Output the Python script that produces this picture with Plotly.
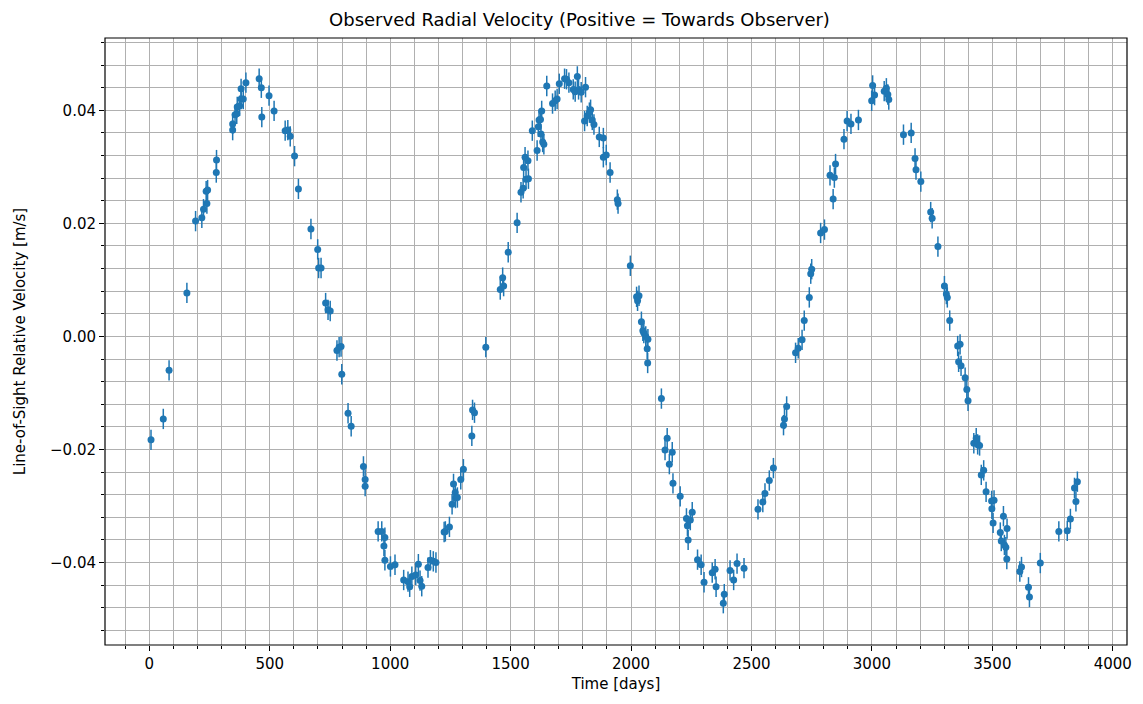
import plotly.graph_objects as go

days = [7, 58, 82, 156, 192, 218, 225, 239, 236, 242, 278, 279, 346, 346, 356, 363, 365, 375, 381, 381,
        390, 401, 456, 465, 467, 497, 518, 564, 575, 585, 603, 619, 671, 699, 703, 713, 732, 742, 751, 779,
        788, 796, 799, 825, 838, 889, 896, 896, 950, 965, 974, 978, 978, 1001, 1020, 1056, 1074, 1081, 1090, 1106,
        1117, 1124, 1131, 1157, 1167, 1179, 1190, 1224, 1229, 1246, 1257, 1263, 1270, 1271, 1279, 1293, 1304, 1339, 1342, 1350,
        1397, 1457, 1467, 1471, 1490, 1527, 1543, 1552, 1554, 1560, 1564, 1572, 1574, 1590, 1610, 1615, 1618, 1624, 1626, 1629,
        1633, 1638, 1650, 1674, 1685, 1693, 1702, 1724, 1732, 1742, 1760, 1768, 1777, 1782, 1793, 1807, 1811, 1818, 1827, 1832,
        1839, 1846, 1868, 1885, 1885, 1897, 1913, 1943, 1946,
        1997, 2023, 2027, 2033, 2043, 2049, 2053, 2061, 2070, 2067, 2069, 2126, 2141, 2150, 2159, 2171, 2174, 2204, 2230, 2234,
        2237, 2246, 2254, 2276, 2291, 2303, 2337, 2349, 2353, 2383, 2387, 2411, 2426, 2440, 2469, 2527, 2547, 2556, 2574, 2591,
        2633, 2637, 2646, 2683, 2694, 2710, 2719, 2740, 2746, 2750, 2787, 2803, 2826, 2839, 2844, 2849, 2884, 2897, 2913, 2944,
        2999, 3003, 3011, 3051, 3060, 3066, 3070, 3131, 3163, 3179, 3183, 3203, 3244, 3250, 3274, 3301, 3309, 3313, 3323, 3356,
        3366, 3360, 3370, 3387, 3394, 3399, 3423, 3433, 3439, 3447, 3454, 3464, 3474, 3497, 3507, 3498, 3503, 3533, 3537, 3546,
        3550, 3556, 3560, 3561, 3614, 3621, 3650, 3654, 3699, 3776, 3811, 3824, 3841, 3847, 3853]
velocity = [-0.0183, -0.0146, -0.0060, 0.0077, 0.0204, 0.0210, 0.0225, 0.0235, 0.0257, 0.0259, 0.0290, 0.0312, 0.0365, 0.0376, 0.0392, 0.0394, 0.0406, 0.0408, 0.0420, 0.0438,
            0.0420, 0.0449, 0.0456, 0.0440, 0.0388, 0.0426, 0.0399, 0.0364, 0.0365, 0.0354, 0.0319, 0.0261, 0.0190, 0.0154, 0.0121, 0.0121, 0.0059, 0.0047, 0.0045, -0.0025,
            -0.0019, -0.0018, -0.0067, -0.0136, -0.0159, -0.0230, -0.0253, -0.0265, -0.0345, -0.0345, -0.0371, -0.0356, -0.0396, -0.0407, -0.0404, -0.0431, -0.0434, -0.0443, -0.0425, -0.0422,
            -0.0403, -0.0432, -0.0442, -0.0409, -0.0396, -0.0398, -0.0400, -0.0346, -0.0345, -0.0337, -0.0297, -0.0261, -0.0276, -0.0286, -0.0285, -0.0253, -0.0235, -0.0176, -0.0130, -0.0135,
            -0.0019, 0.0083, 0.0104, 0.0089, 0.0149, 0.0201, 0.0255, 0.0262, 0.0299, 0.0317, 0.0278, 0.0311, 0.0279, 0.0364, 0.0329, 0.0371, 0.0383, 0.0384, 0.0358, 0.0399,
            0.0344, 0.0340, 0.0443, 0.0412, 0.0417, 0.0420, 0.0447, 0.0456, 0.0455, 0.0449, 0.0437, 0.0433, 0.0460, 0.0437, 0.0432, 0.0381, 0.0441, 0.0390, 0.0396, 0.0401,
            0.0383, 0.0375, 0.0353, 0.0351, 0.0317, 0.0321, 0.0290, 0.0242, 0.0235,
            0.0125, 0.0070, 0.0063, 0.0072, 0.0026, 0.0010, 0.0006, 0.0000, -0.0005, -0.0022, -0.0047, -0.0110, -0.0201, -0.0180, -0.0226, -0.0205, -0.0260, -0.0283, -0.0322, -0.0335,
            -0.0360, -0.0325, -0.0311, -0.0395, -0.0404, -0.0435, -0.0418, -0.0412, -0.0443, -0.0472, -0.0456, -0.0414, -0.0431, -0.0402, -0.0410, -0.0306, -0.0293, -0.0278, -0.0255, -0.0233,
            -0.0157, -0.0146, -0.0124, -0.0029, -0.0021, -0.0006, 0.0028, 0.0069, 0.0111, 0.0119, 0.0183, 0.0189, 0.0285, 0.0243, 0.0281, 0.0305, 0.0349, 0.0381, 0.0376, 0.0383,
            0.0417, 0.0444, 0.0427, 0.0434, 0.0439, 0.0428, 0.0419, 0.0357, 0.0360, 0.0315, 0.0295, 0.0274, 0.0220, 0.0209, 0.0159, 0.0089, 0.0075, 0.0069, 0.0028, -0.0017,
            -0.0014, -0.0045, -0.0052, -0.0073, -0.0094, -0.0114, -0.0189, -0.0180, -0.0191, -0.0193, -0.0245, -0.0237, -0.0275, -0.0291, -0.0290, -0.0305, -0.0330, -0.0347, -0.0362, -0.0318,
            -0.0369, -0.0373, -0.0394, -0.0340, -0.0416, -0.0408, -0.0444, -0.0461, -0.0401, -0.0345, -0.0344, -0.0323, -0.0268, -0.0292, -0.0257]
v_err = 0.0018

fig = go.Figure(go.Scatter(
    x=days, y=velocity, mode="markers",
    marker=dict(color="#1f77b4", size=7),
    error_y=dict(type="constant", value=v_err, color="#1f77b4", thickness=1.5, width=0),
))

grid = "#b0b0b0"
axis_common = dict(showline=False, zeroline=False, ticks="outside", ticklen=5, tickcolor="black",
                   showgrid=True, gridcolor=grid, gridwidth=1, automargin=False,
                   tickfont=dict(size=15, color="black"))
fig.update_xaxes(range=[-184, 4059], dtick=500, tick0=0,
                 minor=dict(dtick=100, ticks="outside", ticklen=3, tickcolor="black", showgrid=True, gridcolor=grid),
                 title=dict(text="Time [days]", font=dict(size=15, color="black"), standoff=6), **axis_common)
fig.update_yaxes(range=[-0.0546, 0.0528], dtick=0.02, tick0=0, tickformat=".2f",
                 minor=dict(dtick=0.004, ticks="outside", ticklen=3, tickcolor="black", showgrid=True, gridcolor=grid),
                 title=dict(text="Line-of-Sight Relative Velocity [m/s]", font=dict(size=15, color="black"), standoff=20),
                 **axis_common)
fig.add_shape(type="rect", xref="paper", yref="paper", x0=0, y0=0, x1=1, y1=1,
              line=dict(color="black", width=1.2), layer="above")
fig.update_layout(
    width=1143, height=704,
    margin=dict(l=97, r=24, t=30, b=67),
    paper_bgcolor="white", plot_bgcolor="white",
    font=dict(family="DejaVu Sans", color="black"),
    title=dict(text="Observed Radial Velocity (Positive = Towards Observer)", x=0.5, xanchor="center",
               y=0.992, yanchor="top", font=dict(size=18)),
    showlegend=False,
)
fig.write_html("out.html")
